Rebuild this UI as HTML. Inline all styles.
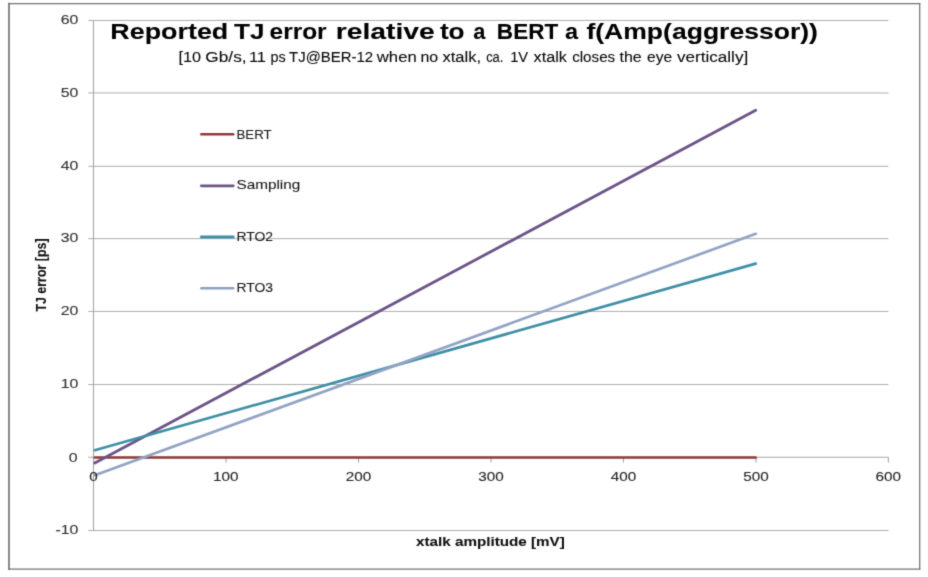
<!DOCTYPE html>
<html lang="en">
<head>
<meta charset="utf-8">
<title>Reported TJ error relative to a BERT a f(Amp(aggressor))</title>
<style>
html,body{margin:0;padding:0;background:#fff;}
body{width:928px;height:577px;overflow:hidden;}
svg{display:block;}
text{font-family:"Liberation Sans",sans-serif;stroke-width:0.1px;stroke-linejoin:round;}
</style>
</head>
<body>
<svg width="928" height="577" viewBox="0 0 928 577">
<defs><filter id="soft" x="0" y="0" width="928" height="577" filterUnits="userSpaceOnUse" color-interpolation-filters="sRGB"><feConvolveMatrix order="3" kernelMatrix="0.019 0.1 0.019 0.1 0.524 0.1 0.019 0.1 0.019" divisor="1" edgeMode="duplicate" preserveAlpha="false"/></filter></defs>
<g filter="url(#soft)">
<rect x="0" y="0" width="928" height="577" fill="#ffffff"/>
<g stroke="#737373" fill="none" stroke-linecap="square">
<line x1="9" y1="3.7" x2="9" y2="569.1" stroke-width="1.7"/>
<line x1="9" y1="3.7" x2="919.7" y2="3.7" stroke-width="1.25"/>
<line x1="919.7" y1="3.7" x2="919.7" y2="569.1" stroke-width="1.25"/>
<line x1="9" y1="569.1" x2="919.7" y2="569.1" stroke-width="1.35"/>
</g>
<g stroke="#adadad" stroke-width="1" fill="none">
<line x1="88.2" y1="530.53" x2="888.4" y2="530.53"/>
<line x1="88.2" y1="384.53" x2="888.4" y2="384.53"/>
<line x1="88.2" y1="311.43" x2="888.4" y2="311.43"/>
<line x1="88.2" y1="238.65" x2="888.4" y2="238.65"/>
<line x1="88.2" y1="166.30" x2="888.4" y2="166.30"/>
<line x1="88.2" y1="92.96" x2="888.4" y2="92.96"/>
<line x1="88.2" y1="20.43" x2="888.4" y2="20.43"/>
</g>
<g stroke="#a6a6a6" stroke-width="1.1" fill="none">
<line x1="93.5" y1="20.43" x2="93.5" y2="530.53"/>
<line x1="88.2" y1="457.3" x2="888.4" y2="457.3"/>
<line x1="93.60" y1="457.3" x2="93.60" y2="462.6"/>
<line x1="226.07" y1="457.3" x2="226.07" y2="462.6"/>
<line x1="358.53" y1="457.3" x2="358.53" y2="462.6"/>
<line x1="491.00" y1="457.3" x2="491.00" y2="462.6"/>
<line x1="623.47" y1="457.3" x2="623.47" y2="462.6"/>
<line x1="755.93" y1="457.3" x2="755.93" y2="462.6"/>
<line x1="888.40" y1="457.3" x2="888.40" y2="462.6"/>
</g>
<g fill="none" stroke-linecap="round">
<line x1="94.80" y1="457.45" x2="755.73" y2="457.45" stroke="#8f3a38" stroke-width="2.45"/>
<line x1="94.80" y1="463.00" x2="755.73" y2="110.33" stroke="#6b5488" stroke-width="2.8"/>
<line x1="94.80" y1="450.19" x2="755.73" y2="263.67" stroke="#408fa6" stroke-width="2.7"/>
<line x1="94.80" y1="475.23" x2="755.73" y2="233.81" stroke="#92a3c4" stroke-width="2.7"/>
</g>
<line x1="201.3" y1="134.3" x2="233.3" y2="134.3" stroke="#8f3a38" stroke-width="2.45" stroke-linecap="round"/>
<text y="138.5" font-size="13.3" fill="#1a1a1a" stroke="#1a1a1a"><tspan x="236.48" textLength="35.18" lengthAdjust="spacingAndGlyphs">BERT</tspan></text>
<line x1="201.3" y1="185.8" x2="233.3" y2="185.8" stroke="#6b5488" stroke-width="2.8" stroke-linecap="round"/>
<text y="189.4" font-size="13.3" fill="#1a1a1a" stroke="#1a1a1a"><tspan x="236.48" textLength="63.80" lengthAdjust="spacingAndGlyphs">Sampling</tspan></text>
<line x1="201.3" y1="237.0" x2="233.3" y2="237.0" stroke="#408fa6" stroke-width="2.8" stroke-linecap="round"/>
<text y="240.7" font-size="13.3" fill="#1a1a1a" stroke="#1a1a1a"><tspan x="236.42" textLength="36.62" lengthAdjust="spacingAndGlyphs">RTO2</tspan></text>
<line x1="201.3" y1="288.2" x2="233.3" y2="288.2" stroke="#8fa0c0" stroke-width="2.35" stroke-linecap="round"/>
<text y="291.8" font-size="13.3" fill="#1a1a1a" stroke="#1a1a1a"><tspan x="236.42" textLength="36.62" lengthAdjust="spacingAndGlyphs">RTO3</tspan></text>
<text x="55.53" y="534.1" font-size="13.7" fill="#303030" stroke="#303030" textLength="22.91" lengthAdjust="spacingAndGlyphs">-10</text>
<text x="68.86" y="461.5" font-size="13.7" fill="#303030" stroke="#303030" textLength="8.82" lengthAdjust="spacingAndGlyphs">0</text>
<text x="60.73" y="388.1" font-size="13.7" fill="#303030" stroke="#303030" textLength="17.63" lengthAdjust="spacingAndGlyphs">10</text>
<text x="60.73" y="315.0" font-size="13.7" fill="#303030" stroke="#303030" textLength="17.63" lengthAdjust="spacingAndGlyphs">20</text>
<text x="60.73" y="242.2" font-size="13.7" fill="#303030" stroke="#303030" textLength="17.63" lengthAdjust="spacingAndGlyphs">30</text>
<text x="60.73" y="169.9" font-size="13.7" fill="#303030" stroke="#303030" textLength="17.63" lengthAdjust="spacingAndGlyphs">40</text>
<text x="60.73" y="96.6" font-size="13.7" fill="#303030" stroke="#303030" textLength="17.63" lengthAdjust="spacingAndGlyphs">50</text>
<text x="60.73" y="24.0" font-size="13.7" fill="#303030" stroke="#303030" textLength="17.63" lengthAdjust="spacingAndGlyphs">60</text>
<text x="89.34" y="480.8" font-size="12.8" fill="#262626" stroke="#262626" textLength="8.51" lengthAdjust="spacingAndGlyphs">0</text>
<text x="213.00" y="480.8" font-size="12.8" fill="#262626" stroke="#262626" textLength="25.53" lengthAdjust="spacingAndGlyphs">100</text>
<text x="345.69" y="480.8" font-size="12.8" fill="#262626" stroke="#262626" textLength="25.53" lengthAdjust="spacingAndGlyphs">200</text>
<text x="478.23" y="480.8" font-size="12.8" fill="#262626" stroke="#262626" textLength="25.53" lengthAdjust="spacingAndGlyphs">300</text>
<text x="610.84" y="480.8" font-size="12.8" fill="#262626" stroke="#262626" textLength="25.53" lengthAdjust="spacingAndGlyphs">400</text>
<text x="743.16" y="480.8" font-size="12.8" fill="#262626" stroke="#262626" textLength="25.53" lengthAdjust="spacingAndGlyphs">500</text>
<text x="875.55" y="480.8" font-size="12.8" fill="#262626" stroke="#262626" textLength="25.53" lengthAdjust="spacingAndGlyphs">600</text>
<text y="39.0" font-size="22.3" font-weight="bold" fill="#000" stroke="#000"><tspan x="110.39" textLength="117.91" lengthAdjust="spacingAndGlyphs">Reported</tspan> <tspan x="234.01" textLength="30.49" lengthAdjust="spacingAndGlyphs">TJ</tspan> <tspan x="269.54" textLength="57.10" lengthAdjust="spacingAndGlyphs">error</tspan> <tspan x="335.70" textLength="99.01" lengthAdjust="spacingAndGlyphs">relative</tspan> <tspan x="439.91" textLength="24.67" lengthAdjust="spacingAndGlyphs">to</tspan> <tspan x="473.29" textLength="12.12" lengthAdjust="spacingAndGlyphs">a</tspan> <tspan x="496.88" textLength="61.32" lengthAdjust="spacingAndGlyphs">BERT</tspan> <tspan x="564.94" textLength="13.06" lengthAdjust="spacingAndGlyphs">a</tspan> <tspan x="586.45" textLength="231.49" lengthAdjust="spacingAndGlyphs">f(Amp(aggressor))</tspan></text>
<text y="61.7" font-size="14.9" fill="#0a0a0a" stroke="#0a0a0a" stroke-width="0.4"><tspan x="178.57" textLength="22.56" lengthAdjust="spacingAndGlyphs">[10</tspan> <tspan x="205.33" textLength="41.23" lengthAdjust="spacingAndGlyphs">Gb/s,</tspan> <tspan x="248.96" textLength="17.03" lengthAdjust="spacingAndGlyphs">11</tspan> <tspan x="270.43" textLength="15.26" lengthAdjust="spacingAndGlyphs">ps</tspan> <tspan x="289.12" textLength="83.97" lengthAdjust="spacingAndGlyphs">TJ@BER-12</tspan> <tspan x="376.80" textLength="39.90" lengthAdjust="spacingAndGlyphs">when</tspan> <tspan x="420.43" textLength="17.79" lengthAdjust="spacingAndGlyphs">no</tspan> <tspan x="442.52" textLength="38.52" lengthAdjust="spacingAndGlyphs">xtalk,</tspan> <tspan x="486.16" textLength="17.23" lengthAdjust="spacingAndGlyphs">ca.</tspan> <tspan x="510.19" textLength="18.00" lengthAdjust="spacingAndGlyphs">1V</tspan> <tspan x="533.53" textLength="33.37" lengthAdjust="spacingAndGlyphs">xtalk</tspan> <tspan x="572.16" textLength="43.04" lengthAdjust="spacingAndGlyphs">closes</tspan> <tspan x="619.53" textLength="22.22" lengthAdjust="spacingAndGlyphs">the</tspan> <tspan x="647.05" textLength="25.12" lengthAdjust="spacingAndGlyphs">eye</tspan> <tspan x="677.06" textLength="71.16" lengthAdjust="spacingAndGlyphs">vertically]</tspan></text>
<text y="546.3" font-size="13.5" font-weight="bold" fill="#111" stroke="#111"><tspan x="416.06" textLength="148.72" lengthAdjust="spacingAndGlyphs">xtalk amplitude [mV]</tspan></text>
<text y="0" font-size="13.8" font-weight="bold" fill="#111" stroke="#111" stroke-width="0.55" transform="translate(45.8 311.5) rotate(-90)"><tspan x="-0.11" textLength="73.20" lengthAdjust="spacingAndGlyphs">TJ error [ps]</tspan></text>
</g>
</svg>
</body>
</html>
